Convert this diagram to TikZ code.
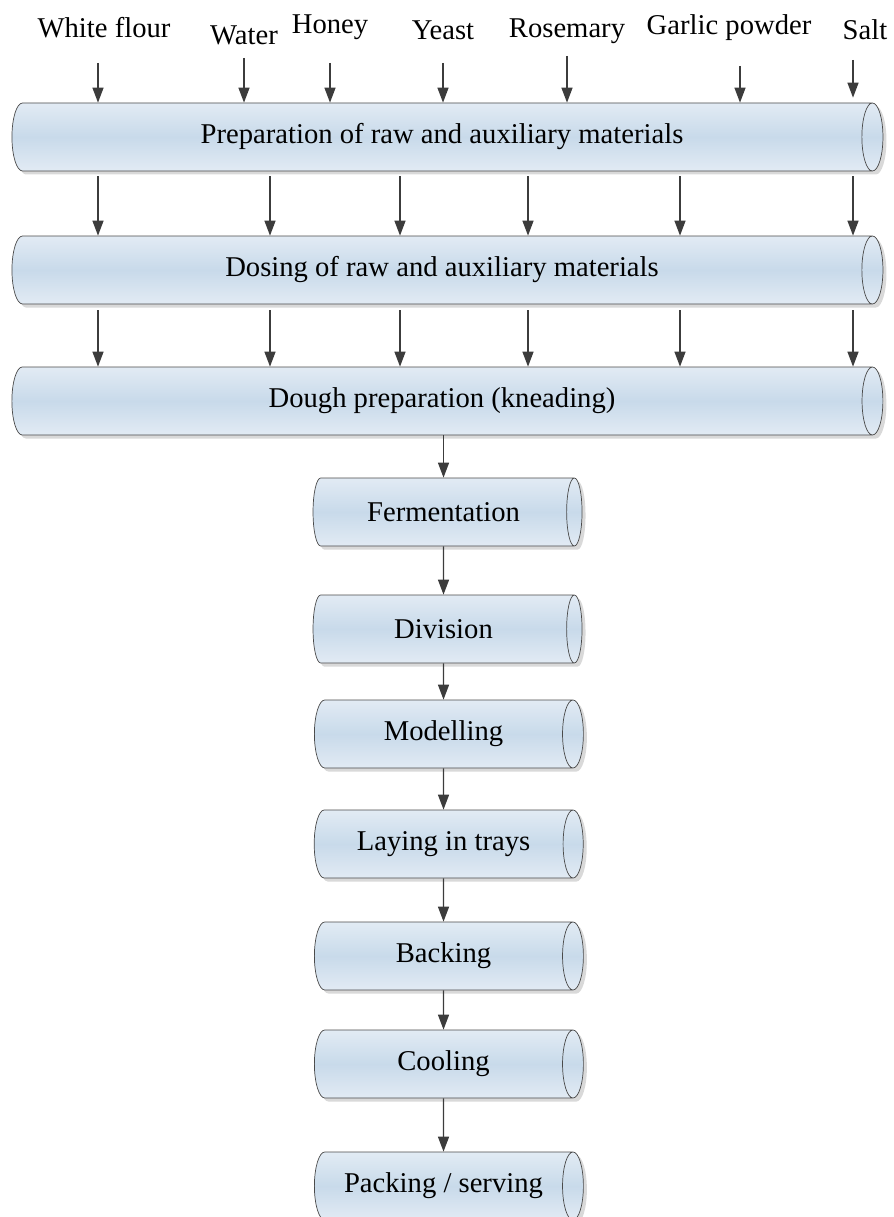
\documentclass[tikz,border=0pt]{standalone}
\usepackage{fontspec}
\setmainfont{Liberation Serif}
\usepackage{tikz}
\usetikzlibrary{arrows.meta,shapes.geometric,shadows}

\definecolor{boxEdge}{HTML}{4A4A4A}
\definecolor{boxTop}{HTML}{E2EBF4}
\definecolor{boxMid}{HTML}{C8DAEA}
\definecolor{arrowGray}{HTML}{3C3C3C}

\tikzset{
    stage/.style={
        cylinder,
        aspect=0.8,
        shape border rotate=0,
        draw=boxEdge,
        thin,
        top color=boxTop,
        bottom color=boxTop,
        middle color=boxMid,
        drop shadow={shadow xshift=0.7mm, shadow yshift=-0.7mm, fill=gray!30, opacity=1},
        minimum width=1.36cm,
        inner sep=0pt,
        font=\fontsize{16.3}{19}\selectfont
    },
    bigstage/.style={stage, minimum height=17.42cm},
    smallstage/.style={stage, minimum height=5.38cm},
    flow/.style={
        -{Triangle[width=2.2mm, length=3mm]},
        thick,
        arrowGray
    },
    inlabel/.style={font=\fontsize{16.3}{19}\selectfont}
}

\begin{document}
\begin{tikzpicture}

\useasboundingbox (0,0) rectangle (17.86,-24.34);

% ---------------- STAGES ----------------

\node[bigstage] (prep)  at (8.84,-2.74) {Preparation of raw and auxiliary materials};
\node[bigstage] (dose)  at (8.84,-5.40) {Dosing of raw and auxiliary materials};
\node[bigstage] (dough) at (8.84,-8.02) {Dough preparation (kneading)};

\node[smallstage] (ferm)   at (8.87,-10.24) {Fermentation};
\node[smallstage] (divi)   at (8.87,-12.58) {Division};
\node[smallstage] (model)  at (8.87,-14.68) {Modelling};
\node[smallstage] (laying) at (8.87,-16.88) {Laying in trays};
\node[smallstage] (back)   at (8.87,-19.12) {Backing};
\node[smallstage] (cool)   at (8.87,-21.28) {Cooling};
\node[smallstage] (pack)   at (8.87,-23.72) {Packing / serving};


% ---------------- INPUTS ----------------

\node[inlabel] (lflour)  at (2.08,-0.56)  {White flour};
\node[inlabel] (lwater)  at (4.88,-0.70)  {Water};
\node[inlabel] (lhoney)  at (6.60,-0.54)  {Honey};
\node[inlabel] (lyeast)  at (8.86,-0.60)  {Yeast};
\node[inlabel] (lrose)   at (11.34,-0.62) {Rosemary};
\node[inlabel] (lgarlic) at (14.58,-0.56) {Garlic powder};
\node[inlabel] (lsalt)   at (17.30,-0.60) {Salt};

\coordinate (iflour)  at (1.96,-1.26);
\coordinate (iwater)  at (4.88,-1.16);
\coordinate (ihoney)  at (6.60,-1.26);
\coordinate (iyeast)  at (8.86,-1.26);
\coordinate (irose)   at (11.34,-1.12);
\coordinate (igarlic) at (14.80,-1.32);
\coordinate (isalt)   at (17.06,-1.20);

\foreach \c in {iflour,iwater,ihoney,iyeast,irose,igarlic}
    \draw[flow] (\c) -- (\c |- prep.north);

\draw[flow] (isalt) -- ([yshift=1mm]isalt |- prep.north);


% ---------------- DOSING / KNEADING ----------------

\foreach \x in {1.96,5.40,8.00,10.56,13.60,17.06} {
    \draw[flow, shorten <=1mm] (prep.south -| \x,0) -- (dose.north -| \x,0);
    \draw[flow, shorten <=1.2mm] (dose.south -| \x,0) -- (dough.north -| \x,0);
}


% ---------------- PROCESS ----------------

\draw[flow] (dough.south -| ferm.north) -- (ferm.north);
\draw[flow] (ferm.south)  -- (divi.north);
\draw[flow] (divi.south)  -- (model.north);
\draw[flow] (model.south) -- (laying.north);
\draw[flow] (laying.south) -- (back.north);
\draw[flow] (back.south)  -- (cool.north);
\draw[flow] (cool.south)  -- (pack.north);

\end{tikzpicture}
\end{document}
